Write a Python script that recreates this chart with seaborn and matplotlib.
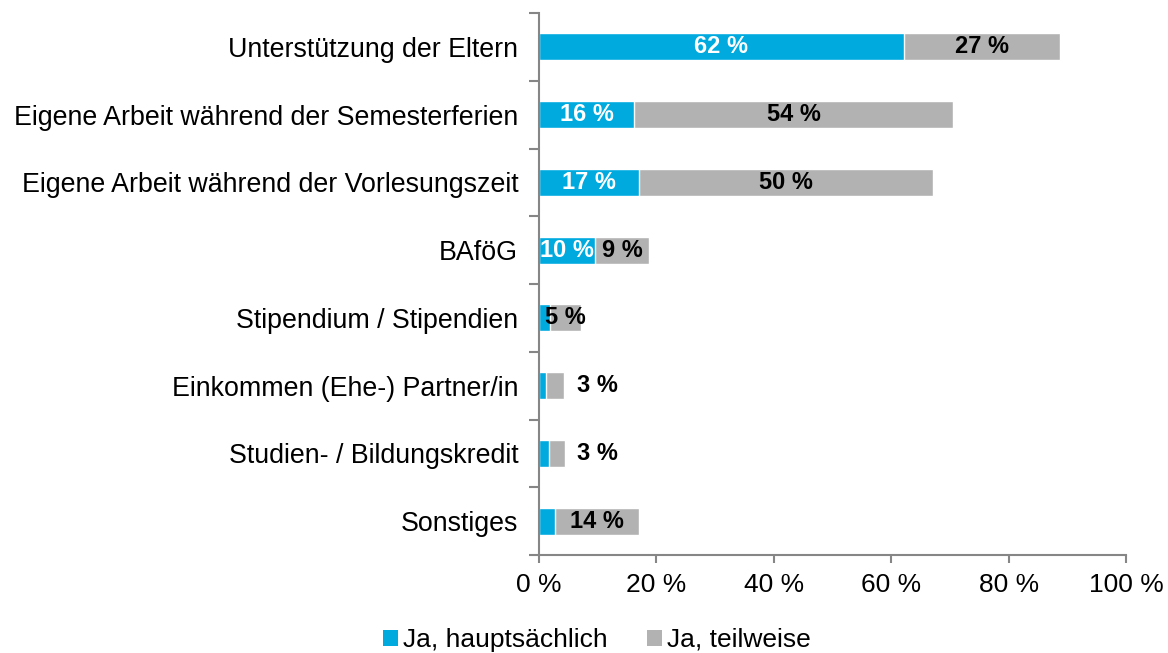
import matplotlib
matplotlib.use("Agg")
import matplotlib.pyplot as plt
import seaborn as sns
import pandas as pd
from matplotlib.patches import Patch

categories = [
    "Unterstützung der Eltern",
    "Eigene Arbeit während der Semesterferien",
    "Eigene Arbeit während der Vorlesungszeit",
    "BAföG",
    "Stipendium / Stipendien",
    "Einkommen (Ehe-) Partner/in",
    "Studien- / Bildungskredit",
    "Sonstiges",
]
hauptsaechlich = [62.1, 16.2, 17.1, 9.6, 1.8, 1.2, 1.7, 2.7]
teilweise = [26.6, 54.4, 50.0, 9.2, 5.4, 3.1, 2.7, 14.3]
series_names = ["Ja, hauptsächlich", "Ja, teilweise"]
x_ticks = [0, 20, 40, 60, 80, 100]

BLUE = "#00AADF"
GREY = "#B2B2B2"
AXC = "#868686"

sns.set_theme(style="white")
plt.rcParams["font.family"] = ["Liberation Sans", "DejaVu Sans"]
plt.rcParams["text.color"] = "black"

df = pd.DataFrame({"cat": categories, "h": hauptsaechlich, "t": teilweise})
df["total"] = df["h"] + df["t"]

fig = plt.figure(figsize=(11.68, 6.53), dpi=100)
ax = fig.add_axes([539 / 1168, 1 - 555 / 653, (1126 - 539) / 1168, (555 - 13) / 653])

sns.barplot(data=df, x="total", y="cat", color=GREY, saturation=1, width=0.4,
            ax=ax, orient="h")
sns.barplot(data=df, x="h", y="cat", color=BLUE, saturation=1, width=0.4,
            ax=ax, orient="h")

ax.set_xlim(0, 100)
ax.set_ylim(len(categories) - 0.5, -0.5)
ax.set_xlabel("")
ax.set_ylabel("")

# value labels
for i, (h, t) in enumerate(zip(hauptsaechlich, teilweise)):
    if h >= 5:
        ax.text(h / 2, i, f"{round(h)} %", ha="center", va="center",
                color="white", fontsize=17, fontweight="bold")
    if t >= 5:
        xpos = h + t / 2
    else:
        xpos = 10
    ax.text(xpos, i, f"{round(t)} %", ha="center", va="center",
            color="black", fontsize=17, fontweight="bold")

# axes styling
for s in ["top", "right"]:
    ax.spines[s].set_visible(False)
for s in ["left", "bottom"]:
    ax.spines[s].set_color(AXC)
    ax.spines[s].set_linewidth(1.5)

ax.set_xticks(x_ticks)
ax.set_xticklabels([f"{v} %" for v in x_ticks], fontsize=19)
ax.tick_params(axis="x", direction="out", length=6, width=1.5, color=AXC,
               bottom=True, pad=7, labelcolor="black")

# y: category labels at centres (no tick), separator ticks at boundaries
ax.set_yticks(range(len(categories)))
ax.set_yticklabels(categories, fontsize=19.3)
ax.tick_params(axis="y", length=0, pad=15, labelcolor="black")
ax.set_yticks([i - 0.5 for i in range(len(categories) + 1)], minor=True)
ax.tick_params(axis="y", which="minor", direction="out", length=7, width=1.5,
               color=AXC, left=True)

handles = [Patch(facecolor=BLUE, edgecolor="none"), Patch(facecolor=GREY, edgecolor="none")]
fig.legend(handles, series_names, loc="center", bbox_to_anchor=(597 / 1168, 1 - 640 / 653),
           ncol=2, frameon=False, fontsize=19, handlelength=0.55, handleheight=0.55,
           handletextpad=0.2, columnspacing=1.5, labelcolor="black")

fig.savefig("out.png", dpi=100)
